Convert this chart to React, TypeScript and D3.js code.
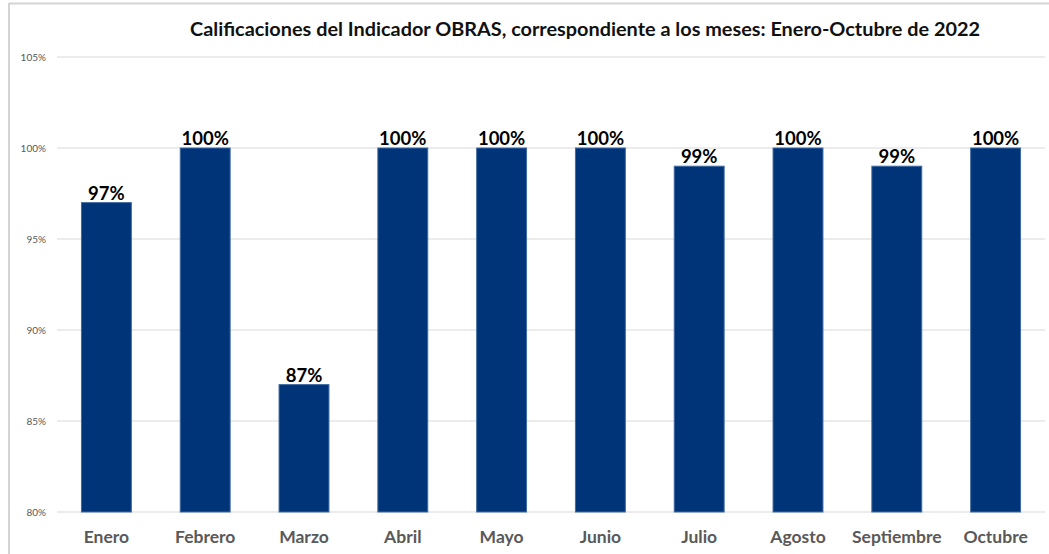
import React from "react";
import * as d3 from "d3";

const months = ["Enero", "Febrero", "Marzo", "Abril", "Mayo", "Junio", "Julio", "Agosto", "Septiembre", "Octubre"];
const scores = [97, 100, 87, 100, 100, 100, 99, 100, 99, 100];
const yTicks = [80, 85, 90, 95, 100, 105];
const title = "Calificaciones del Indicador OBRAS, correspondiente a los meses: Enero-Octubre de 2022";

const W = 1049;
const H = 554;

export default function App() {
  const x = d3.scaleBand<string>().domain(months).range([57, 1045]).paddingInner(0.495).paddingOuter(0.2475);
  const y = d3.scaleLinear().domain([80, 105]).range([512, 57]);
  const font = "Lato, 'Open Sans', sans-serif";
  return (
    <svg width={W} height={H} style={{ position: "absolute", left: 0, top: 0, background: "#fff" }}>
      <rect x={0} y={0} width={W} height={H} fill="#fff" />
      <line x1={9} x2={W} y1={3.5} y2={3.5} stroke="#d4d4d4" strokeWidth={2} />
      <line x1={9} x2={9} y1={3} y2={H} stroke="#d4d4d4" strokeWidth={2} />
      <text x={585} y={36} textAnchor="middle" fontFamily={font} fontWeight={700} fontSize={19} textLength={790} lengthAdjust="spacingAndGlyphs" fill="#111">
        {title}
      </text>
      {yTicks.map((t) => (
        <g key={t}>
          <line x1={57} x2={1045} y1={y(t)} y2={y(t)} stroke="#d9d9d9" strokeWidth={1} />
          <text x={46} y={y(t) + 3.5} textAnchor="end" fontFamily={font} fontSize={10} fill="#595959">
            {t}%
          </text>
        </g>
      ))}
      {months.map((m, i) => (
        <g key={m}>
          <rect
            x={x(m)}
            y={y(scores[i])}
            width={x.bandwidth()}
            height={y(80) - y(scores[i])}
            fill="#003478"
            stroke="#3f6aa3"
            strokeWidth={1}
          />
          <text
            x={(x(m) as number) + x.bandwidth() / 2}
            y={y(scores[i]) - 3}
            textAnchor="middle"
            fontFamily={font}
            fontWeight={700}
            fontSize={18.5}
            fill="#000"
          >
            {scores[i]}%
          </text>
          <text
            x={(x(m) as number) + x.bandwidth() / 2}
            y={543}
            textAnchor="middle"
            fontFamily={font}
            fontWeight={700}
            fontSize={17.5}
            fill="#595959"
          >
            {m}
          </text>
        </g>
      ))}
    </svg>
  );
}
